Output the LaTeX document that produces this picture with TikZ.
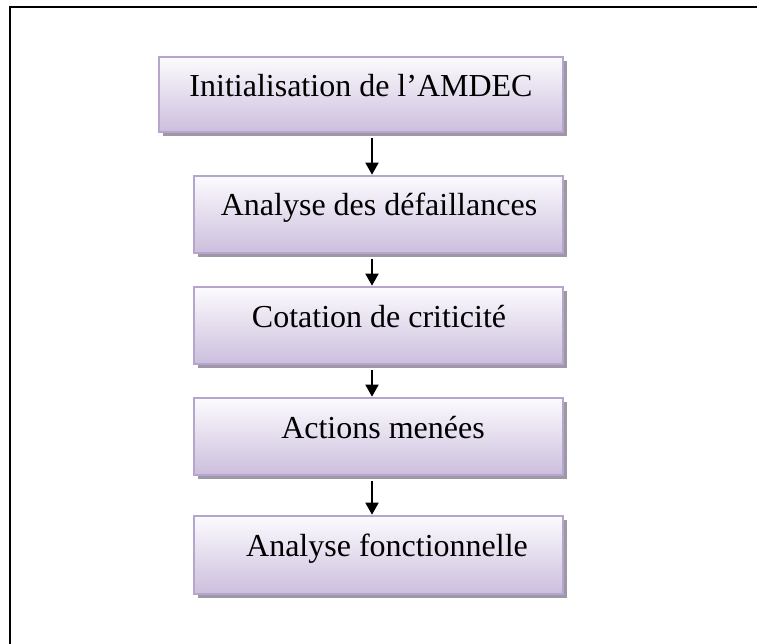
\documentclass[tikz,border=0pt]{standalone}
\usepackage{fontspec}
\setmainfont{Liberation Serif}
\usetikzlibrary{arrows.meta}

\definecolor{boxrim}{RGB}{182,166,206}
\definecolor{boxtop}{RGB}{252,251,254}
\definecolor{boxbot}{RGB}{204,190,221}
\definecolor{boxshade}{RGB}{158,152,166}

\tikzset{
  stagebox/.style={rectangle, draw=boxrim, line width=2.6pt,
    top color=boxtop, bottom color=boxbot, inner sep=0pt},
  stageshadow/.style={fill=boxshade, draw=none},
  stagetext/.style={anchor=base, inner sep=0pt,
    font=\fontsize{32}{37}\selectfont},
  flow/.style={line width=1.8pt, -{Triangle[length=12pt,width=13pt]}},
}

% one stage: #1 name, #2 left, #3 right, #4 top, #5 bottom (px, y downward)
\newcommand{\stage}[5]{%
  \fill[stageshadow] (#2+4,-#4-4) rectangle (#3+4,-#5-4);
  \node[stagebox, minimum width={(#3-#2)*1pt}, minimum height={(#5-#4)*1pt}]
    (#1) at ({(#2+#3)/2},{-(#4+#5)/2}) {};%
}

\begin{document}
\begin{tikzpicture}[x=1pt,y=1pt]
  \useasboundingbox (0,0) rectangle (757,-644);

  % outer frame (only its left and top sides fall inside the page)
  \draw[line width=2pt] (10,-660) -- (10,-7) -- (770,-7);

  \stage{b1}{159}{563}{57}{132}
  \stage{b2}{194}{563}{176}{253}
  \stage{b3}{194}{563}{287}{364}
  \stage{b4}{194}{563}{398}{475}
  \stage{b5}{194}{563}{516}{594}

  \node[stagetext] (t1) at (361,-97)  {Initialisation de l’AMDEC};
  \node[stagetext] (t2) at (379,-216) {Analyse des défaillances};
  \node[stagetext] (t3) at (379,-327) {Cotation de criticité};
  \node[stagetext] (t4) at (383,-438) {Actions menées};
  \node[stagetext] (t5) at (387,-556) {Analyse fonctionnelle};

  \coordinate (ax) at (372,0);
  \draw[flow] ([yshift=-5pt]b1.south -| ax) -- (b2.north -| ax);
  \draw[flow] ([yshift=-5pt]b2.south -| ax) -- (b3.north -| ax);
  \draw[flow] ([yshift=-5pt]b3.south -| ax) -- (b4.north -| ax);
  \draw[flow] ([yshift=-5pt]b4.south -| ax) -- (b5.north -| ax);
\end{tikzpicture}
\end{document}
